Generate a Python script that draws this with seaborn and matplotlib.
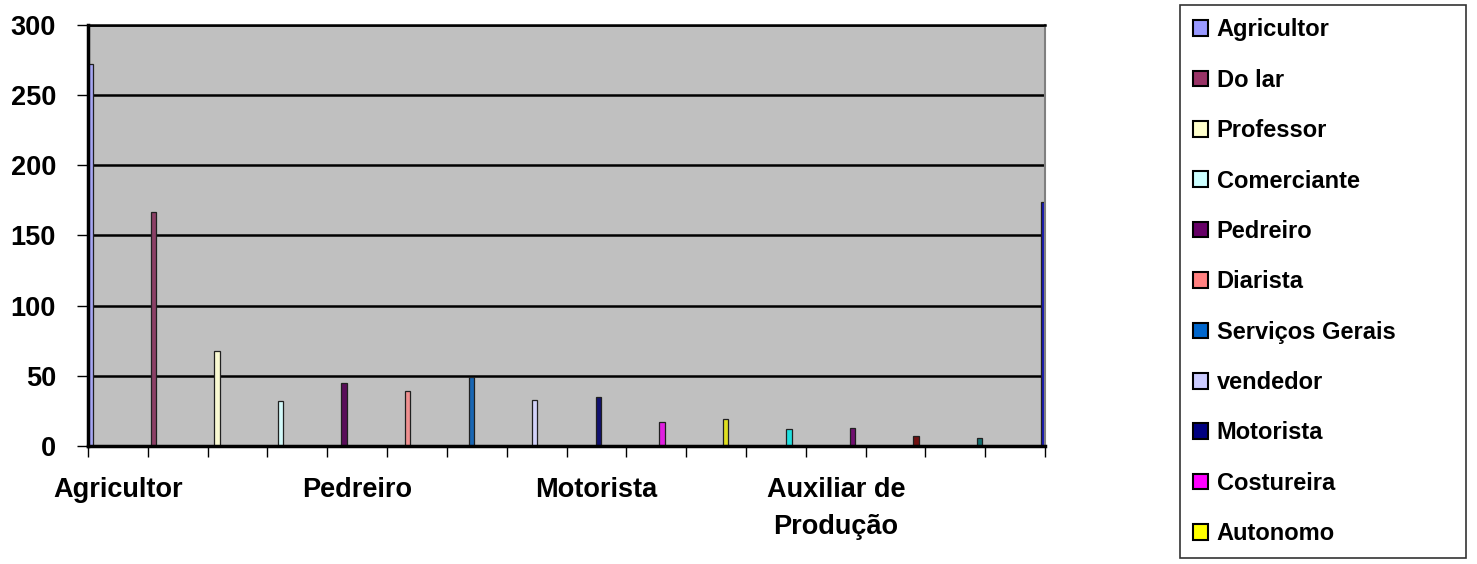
import numpy as np
import pandas as pd
import matplotlib
matplotlib.use("Agg")
import matplotlib.pyplot as plt
import seaborn as sns
from matplotlib.patches import Patch

# categorias (as 4 ultimas nao aparecem na legenda nem nos rotulos)
categorias = ["Agricultor", "Do lar", "Professor", "Comerciante", "Pedreiro",
              "Diarista", "Serviços Gerais", "vendedor", "Motorista", "Costureira",
              "Autonomo", "Categoria 12", "Auxiliar de Produção", "Categoria 14",
              "Categoria 15", "Categoria 16"]
valores = [272, 167, 68, 32, 45, 39, 49, 33, 35, 17, 19, 12, 13, 7, 6, 174]
cores = ["#9999FF", "#993366", "#FFFFCC", "#CCFFFF", "#660066", "#FF8080",
         "#0066CC", "#CCCCFF", "#000080", "#FF00FF", "#FFFF00", "#00FFFF",
         "#800080", "#800000", "#008080", "#0000CC"]
rotulos_x = {0: "Agricultor", 4: "Pedreiro", 8: "Motorista", 12: "Auxiliar de\nProdução"}
n_legenda = 11

df = pd.DataFrame({"categoria": categorias, "valor": valores})

sns.set_style("white")
plt.rcParams["font.family"] = ["Liberation Sans", "DejaVu Sans"]
plt.rcParams["font.weight"] = "bold"
plt.rcParams["text.color"] = "black"
plt.rcParams["xtick.color"] = "black"
plt.rcParams["ytick.color"] = "black"

fig = plt.figure(figsize=(14.77, 5.64), dpi=100)
ax = fig.add_axes([0.0596, 0.209, 0.648, 0.747])
ax.set_facecolor("#C0C0C0")

sns.barplot(data=df, x="categoria", y="valor", hue="categoria",
            order=categorias, hue_order=categorias, palette=cores,
            dodge=True, width=1.0, edgecolor="#202020", linewidth=0.9,
            legend=False, ax=ax)

# barras um pouco mais largas (aspecto 3D do original)
for p in ax.patches:
    cx = p.get_x() + p.get_width() / 2
    p.set_width(0.09)
    p.set_x(cx - 0.045)

ax.set_ylim(0, 300)
ax.set_xlim(-0.5, len(categorias) - 0.5)
ax.set_yticks(np.arange(0, 301, 50))
ax.yaxis.grid(True, color="black", linewidth=1.8)
ax.set_axisbelow(True)

# ticks nas divisorias, rotulos a cada 4 categorias
ax.set_xticks(np.arange(-0.5, len(categorias), 1.0))
ax.set_xticklabels([])
ax.set_xticks(list(rotulos_x.keys()), minor=True)
ax.set_xticklabels(list(rotulos_x.values()), minor=True, fontsize=19.5,
                   fontweight="bold", linespacing=1.55)
ax.tick_params(axis="x", which="major", length=8, width=1, color="black",
               direction="out", bottom=True)
ax.tick_params(axis="x", which="minor", length=0, pad=22, labelcolor="black")
ax.tick_params(axis="y", length=8, width=1, color="black", direction="out",
               left=True, labelsize=19.5, pad=15, labelcolor="black")
for lab in ax.get_yticklabels():
    lab.set_fontweight("bold")

ax.set_xlabel("")
ax.set_ylabel("")
for side in ["left", "bottom"]:
    ax.spines[side].set_color("black")
    ax.spines[side].set_linewidth(2.5)
ax.spines["top"].set_color("black")
ax.spines["top"].set_linewidth(1.8)
ax.spines["right"].set_color("#808080")
ax.spines["right"].set_linewidth(1.5)

handles = [Patch(facecolor=cores[i], edgecolor="black", linewidth=1.5)
           for i in range(n_legenda)]
leg = fig.legend(handles, categorias[:n_legenda], loc="upper left",
                 bbox_to_anchor=(1180 / 1477, 1 - 11 / 564, (1466 - 1180) / 1477, 0.01),
                 mode="expand", frameon=True, fancybox=False, edgecolor="black",
                 prop={"size": 17, "weight": "bold"},
                 handlelength=0.65, handleheight=0.65, handletextpad=0.35,
                 labelspacing=1.16, borderpad=0.55, borderaxespad=0)
leg.get_frame().set_linewidth(1.2)
for t in leg.get_texts():
    t.set_color("black")

fig.savefig("out.png", dpi=100)
plt.close()
